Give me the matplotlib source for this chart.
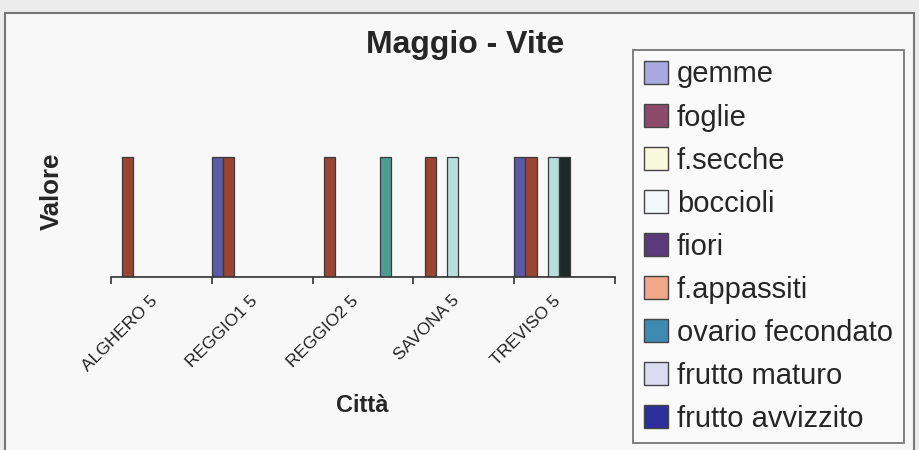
import matplotlib
matplotlib.use("Agg")
import matplotlib.pyplot as plt
from matplotlib.patches import Patch, Rectangle
from matplotlib.transforms import ScaledTranslation
import numpy as np

plt.rcParams['font.family'] = ['Liberation Sans', 'DejaVu Sans']

#_________data__________________
citta = ["ALGHERO 5", "REGGIO1 5", "REGGIO2 5", "SAVONA 5", "TREVISO 5"]
fasi = ["gemme", "foglie", "f.secche", "boccioli", "fiori",
        "f.appassiti", "ovario fecondato", "frutto maturo", "frutto avvizzito"]

gemme            = [0, 1, 0, 0, 1]
foglie           = [1, 1, 1, 1, 1]
f_secche         = [0, 0, 0, 0, 0]
boccioli         = [0, 0, 0, 1, 1]
fiori            = [0, 0, 0, 0, 1]
f_appassiti      = [0, 0, 0, 0, 0]
ovario_fecondato = [0, 0, 1, 0, 0]
frutto_maturo    = [0, 0, 0, 0, 0]
frutto_avvizzito = [0, 0, 0, 0, 0]

serie = [gemme, foglie, f_secche, boccioli, fiori,
         f_appassiti, ovario_fecondato, frutto_maturo, frutto_avvizzito]

# bar fills and legend swatches
col_barre = ["#5a5aa8", "#9a4434", "#f6f6d0", "#b8dedb", "#1f2a28",
             "#f0a888", "#4e9d93", "#d8d8f0", "#2a2a98"]
col_legenda = ["#a9a9e2", "#8c4a6a", "#f8f8dc", "#f2f8f8", "#5a3a7a",
               "#f0a888", "#3f8ab2", "#dcdcf2", "#2e2e9c"]
#_______________________________

fig = plt.figure(figsize=(9.19, 4.5), dpi=100)
fig.patch.set_facecolor("#ececec")

# chart frame
fig.patches.append(Rectangle((5 / 919, -0.05), 909 / 919, 1 - 13 / 450 + 0.05,
                             transform=fig.transFigure, facecolor="#f8f8f8",
                             edgecolor="#777777", linewidth=1.5, zorder=-5))

ax = fig.add_axes([111 / 919, 1 - 277 / 450, 504 / 919, 144 / 450])
ax.set_facecolor("none")
ax.set_zorder(2)

n = len(serie)
w = 1.0 / n
x = np.arange(len(citta))
for k, vals in enumerate(serie):
    pos = x - 0.5 + (k + 0.5) * w
    ax.bar(pos, vals, width=w, color=col_barre[k], edgecolor="#3a3a3a",
           linewidth=0.9, label=fasi[k])

ax.set_xlim(-0.5, len(citta) - 0.5)
ax.set_ylim(0, 1.2)
for s in ["top", "right", "left"]:
    ax.spines[s].set_visible(False)
ax.spines["bottom"].set_color("#333333")
ax.spines["bottom"].set_linewidth(1.2)
ax.set_yticks([])

# boundary ticks, labels at category centers
ax.set_xticks(np.arange(len(citta) + 1) - 0.5)
ax.set_xticklabels([])
ax.tick_params(axis="x", which="major", length=5, width=1.2, color="#333333")
ax.set_xticks(x, minor=True)
ax.set_xticklabels(citta, minor=True, rotation=45, ha="right",
                   rotation_mode="anchor", fontsize=12.5, color="#222222")
ax.tick_params(axis="x", which="minor", length=0, pad=10)
sposta = ScaledTranslation(-12 / 100, -2 / 100, fig.dpi_scale_trans)
for lab in ax.get_xticklabels(minor=True):
    lab.set_transform(lab.get_transform() + sposta)

fig.text(465 / 919, 1 - 45 / 450, "Maggio - Vite", fontsize=23,
         fontweight="bold", ha="center", va="center", color="#262626")
fig.text(52 / 919, 1 - 191 / 450, "Valore", fontsize=18.5, fontweight="bold",
         rotation=90, ha="center", va="center", color="#262626")
fig.text(362 / 919, 1 - 405 / 450, "Città", fontsize=17, fontweight="bold",
         ha="center", va="center", color="#262626")

maniglie = [Patch(facecolor=c, edgecolor="#444444", linewidth=1) for c in col_legenda]
leg = fig.legend(maniglie, fasi, loc="upper left",
                 bbox_to_anchor=(633 / 919, 1 - 50 / 450), borderaxespad=0,
                 fontsize=21, frameon=True, fancybox=False, handlelength=0.85,
                 handleheight=0.85, handletextpad=0.3, borderpad=0.36,
                 labelspacing=0.515)
leg.get_frame().set_edgecolor("#555555")
leg.get_frame().set_linewidth(1.3)
leg.get_frame().set_facecolor("#fbfbfb")
for t in leg.get_texts():
    t.set_color("#262626")

fig.savefig("out.png", dpi=100, facecolor=fig.get_facecolor())
